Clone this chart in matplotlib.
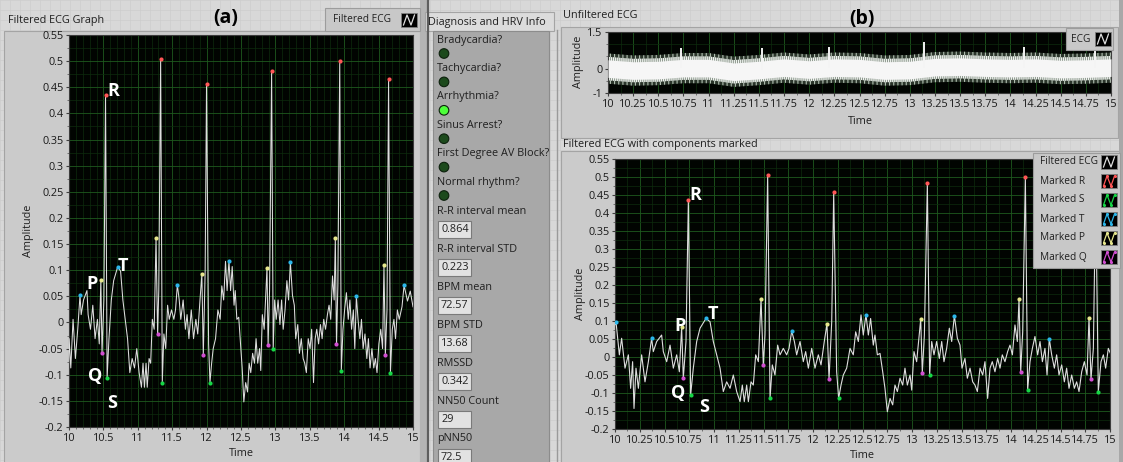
import matplotlib.pyplot as plt
from matplotlib.patches import Rectangle, Circle
from matplotlib.ticker import MultipleLocator, FuncFormatter
import numpy as np

plt.rcParams['font.family'] = ['Open Sans', 'DejaVu Sans']
plt.rcParams['axes.unicode_minus'] = False
plt.rcParams['hatch.linewidth'] = 0.8

# filtered ECG, time base of panel (b)
ecg_t = [10.0, 10.01, 10.044, 10.067, 10.101, 10.135, 10.158, 10.178, 10.192, 10.212, 10.236,
         10.269, 10.303, 10.337, 10.37, 10.387, 10.421, 10.471, 10.488, 10.522, 10.556, 10.589,
         10.623, 10.65, 10.673, 10.69, 10.717, 10.741, 10.764, 10.791, 10.825, 10.859, 10.919,
         10.96, 10.993, 11.027, 11.061, 11.094, 11.128, 11.162, 11.195, 11.229, 11.263, 11.286,
         11.306, 11.33, 11.347, 11.374, 11.397, 11.421, 11.448, 11.475, 11.498, 11.515, 11.542,
         11.566, 11.589, 11.616, 11.643, 11.667, 11.7, 11.734, 11.758, 11.785, 11.812, 11.835,
         11.869, 11.902, 11.926, 11.953, 11.987, 12.02, 12.054, 12.081, 12.114, 12.141, 12.162,
         12.189, 12.209, 12.239, 12.259, 12.283, 12.306, 12.34, 12.374, 12.407, 12.431, 12.458,
         12.485, 12.508, 12.535, 12.559, 12.582, 12.609, 12.626, 12.65, 12.677, 12.704, 12.727,
         12.751, 12.778, 12.805, 12.828, 12.852, 12.879, 12.906, 12.929, 12.953, 12.98, 12.997,
         13.02, 13.047, 13.088, 13.104, 13.125, 13.155, 13.178, 13.199, 13.222, 13.249, 13.276,
         13.3, 13.323, 13.35, 13.377, 13.401, 13.428, 13.458, 13.485, 13.505, 13.535, 13.559,
         13.586, 13.613, 13.636, 13.66, 13.687, 13.714, 13.737, 13.764, 13.788, 13.811, 13.838,
         13.865, 13.889, 13.912, 13.939, 13.966, 13.99, 14.014, 14.04, 14.064, 14.081, 14.098,
         14.118, 14.145, 14.168, 14.192, 14.216, 14.242, 14.269, 14.293, 14.317, 14.343, 14.364,
         14.387, 14.411, 14.438, 14.461, 14.485, 14.512, 14.539, 14.562, 14.586, 14.613, 14.64,
         14.663, 14.687, 14.714, 14.741, 14.768, 14.788, 14.808, 14.832, 14.855, 14.882, 14.909,
         14.933, 14.956, 14.983, 15.01, 15.05, 15.08, 15.13, 15.17, 15.21]
ecg_v = [0.09, 0.098, 0.006, 0.052, -0.031, 0.006, -0.087, -0.013, -0.143, -0.031, -0.087,
         0.006, -0.069, -0.013, 0.052, 0.015, 0.043, 0.061, 0.015, -0.013, 0.033, -0.031,
         0.006, -0.041, 0.082, -0.059, 0.043, 0.436, -0.106, -0.031, 0.043, 0.08, 0.107,
         0.098, 0.043, 0.006, -0.031, -0.096, -0.069, -0.087, -0.05, -0.096, -0.124, -0.078,
         -0.124, -0.078, -0.124, -0.069, -0.078, 0.006, -0.013, 0.161, -0.022, 0.061, 0.505,
         -0.115, -0.022, -0.05, 0.033, 0.006, 0.024, 0.006, 0.024, 0.072, 0.043, 0.006,
         0.043, -0.013, 0.015, -0.031, 0.024, -0.031, 0.006, -0.022, 0.043, 0.092, -0.062,
         0.098, 0.457, -0.041, -0.115, -0.078, -0.05, -0.031, 0.024, 0.006, 0.07, 0.043,
         0.117, 0.061, 0.118, 0.061, 0.107, 0.033, 0.061, 0.006, 0.01, -0.041, -0.087,
         -0.152, -0.115, -0.133, -0.078, -0.096, -0.059, -0.078, -0.031, -0.078, -0.05, -0.092,
         0.015, -0.013, 0.105, -0.044, 0.061, 0.482, -0.05, 0.043, 0.006, 0.043, -0.004,
         0.043, -0.013, 0.024, 0.08, 0.043, 0.115, 0.052, 0.033, -0.031, -0.004, -0.059,
         -0.031, -0.069, -0.078, -0.096, -0.031, -0.05, -0.013, -0.115, -0.031, -0.013, -0.041,
         -0.004, -0.031, 0.006, -0.013, 0.015, 0.033, 0.006, 0.089, 0.043, 0.161, -0.041,
         0.07, 0.5, -0.092, -0.013, 0.024, 0.057, 0.006, 0.043, -0.013, 0.024, -0.05,
         0.05, 0.006, -0.031, 0.006, -0.05, -0.022, -0.069, -0.031, -0.087, -0.05, -0.087,
         -0.069, -0.096, -0.041, -0.013, -0.05, 0.109, -0.062, 0.024, 0.465, -0.096, -0.013,
         0.006, -0.031, 0.024, 0.006, 0.03, 0.071, 0.041, 0.06, 0.03]
# panel (a) shows the same record, its window starting 0.21 s later
a_offset = 0.21

# detected components (panel (b) time base)
r_t = [10.741, 11.542, 12.209, 13.155, 14.145, 14.855]
r_v = [0.436, 0.505, 0.457, 0.482, 0.5, 0.465]
s_t = [10.764, 11.566, 12.259, 13.178, 14.168, 14.882]
s_v = [-0.106, -0.115, -0.115, -0.05, -0.092, -0.096]
q_t = [10.69, 11.498, 12.162, 13.104, 14.098, 14.808]
q_v = [-0.059, -0.022, -0.062, -0.044, -0.041, -0.062]
p_t = [10.673, 11.475, 12.141, 13.088, 14.081, 14.788]
p_v = [0.082, 0.161, 0.092, 0.105, 0.161, 0.109]
t_t = [10.01, 10.37, 10.919, 11.785, 12.535, 13.428, 14.387, 15.08]
t_v = [0.098, 0.052, 0.107, 0.072, 0.118, 0.115, 0.05, 0.071]

# unfiltered ECG: centre of the noise band and the R spikes above it
raw_t = [10.0, 10.25, 10.5, 10.75, 11.0, 11.25, 11.5, 11.75, 12.0, 12.25, 12.5,
         12.75, 13.0, 13.25, 13.5, 13.75, 14.0, 14.25, 14.5, 14.75, 15.0]
raw_mid = [0.0, -0.08, -0.06, 0.02, 0.02, -0.13, -0.06, 0.04, -0.04, 0.04, 0.02,
           -0.08, -0.06, 0.06, 0.08, 0.04, 0.02, 0.04, -0.02, 0.0, 0.04]
raw_core = 0.36
raw_inner = 0.48
raw_noise = 0.62
raw_spike_t = [10.73, 11.53, 12.2, 13.14, 14.14, 14.84]
raw_spike_v = [0.86, 0.86, 0.9, 1.08, 0.9, 0.93]

diag_labels = ['Bradycardia?', 'Tachycardia?', 'Arrhythmia?', 'Sinus Arrest?',
               'First Degree AV Block?', 'Normal rhythm?']
diag_on = [False, False, True, False, False, False]
hrv_labels = ['R-R interval mean', 'R-R interval STD', 'BPM mean', 'BPM STD',
              'RMSSD', 'NN50 Count', 'pNN50']
hrv_values = ['0.864', '0.223', '72.57', '13.68', '0.342', '29', '72.5']

W, H = 1123, 462
fig = plt.figure(figsize=(W / 100, H / 100), dpi=100)
fig.patch.set_facecolor('#d8d8d8')


def box(x0, y0, x1, y1):
    return [x0 / W, 1 - y1 / H, (x1 - x0) / W, (y1 - y0) / H]


# front panel background in pixel coordinates
bg = fig.add_axes([0, 0, 1, 1])
bg.set_xlim(0, W)
bg.set_ylim(H, 0)
bg.axis('off')
for gx in range(0, W, 10):
    bg.axvline(gx, color='#cdcdcd', lw=0.5, zorder=0)
for gy in range(0, H, 10):
    bg.axhline(gy, color='#cdcdcd', lw=0.5, zorder=0)


def rect(ax, x0, y0, x1, y1, fc, ec='#a4a4a4', lw=0.8, z=1):
    ax.add_patch(Rectangle((x0, y0), x1 - x0, y1 - y0, facecolor=fc, edgecolor=ec,
                           lw=lw, zorder=z))


rect(bg, 4, 31, 420, 470, '#cbcbcb')
rect(bg, 420, -2, 428, 470, '#b4b4b4', ec='none')
bg.plot([428, 428], [0, H], color='#5e5e5e', lw=1.6, zorder=2)
rect(bg, 561, 27, 1118, 138, '#cbcbcb')
rect(bg, 561, 151, 1120, 470, '#cbcbcb')
rect(bg, 1119, -2, 1125, 470, '#a8a8a8', ec='none')
bg.plot([557, 557], [30, H], color='#9a9a9a', lw=1.0, zorder=2)

fs = 7.8
txt = dict(fontsize=fs, color='#202020', va='center', zorder=3)
bg.text(8, 21, 'Filtered ECG Graph', **txt)
bg.text(563, 16, 'Unfiltered ECG', **txt)
bg.text(563, 144, 'Filtered ECG with components marked', **txt)
bg.text(226, 18, '(a)', fontsize=14, fontweight='bold', ha='center', va='center')
bg.text(862, 19, '(b)', fontsize=14, fontweight='bold', ha='center', va='center')

# diagnosis panel
rect(bg, 425, 12, 554, 31, '#dcdcdc')
rect(bg, 433, 31, 549, 470, '#a8a8a8', ec='#8c8c8c')
bg.text(428, 22, 'Diagnosis and HRV Info', **txt)
for i, (lab, on) in enumerate(zip(diag_labels, diag_on)):
    y = 40 + 28.4 * i
    bg.text(437, y, lab, **txt)
    bg.add_patch(Circle((444, y + 13.5), 4.8, facecolor='#4dff3a' if on else '#1c4a1c',
                        edgecolor='#0c200c', lw=0.8, zorder=3))
for i, (lab, val) in enumerate(zip(hrv_labels, hrv_values)):
    y = 211 + 38 * i
    bg.text(437, y, lab, **txt)
    rect(bg, 438, y + 10, 471, y + 27, '#e2e2e2', ec='#7a7a7a', lw=0.8, z=2)
    bg.text(441, y + 18.5, val, **txt)

# axis titles
lab = dict(fontsize=fs, color='#202020', ha='center', va='center', zorder=3)
bg.text(28, 231, 'Amplitude', rotation=90, **lab)
bg.text(241, 454, 'Time', **lab)
bg.text(578, 62, 'Amplitude', rotation=90, **lab)
bg.text(860, 121, 'Time', **lab)
bg.text(581, 294, 'Amplitude', rotation=90, **lab)
bg.text(862, 455, 'Time', **lab)

fmt = FuncFormatter(lambda v, p: f'{round(v, 4):g}')
mark_colors = {'R': '#ff5656', 'S': '#16d646', 'T': '#2cb6ea', 'P': '#e6e68c', 'Q': '#d24ed2'}


def scope(rect_px, xstep, xminor, ylim, ystep, yminor):
    ax = fig.add_axes(box(*rect_px))
    ax.set_facecolor('#010401')
    ax.set_xlim(10, 15)
    ax.set_ylim(*ylim)
    ax.xaxis.set_major_locator(MultipleLocator(xstep))
    ax.xaxis.set_minor_locator(MultipleLocator(xminor))
    if ystep is not None:
        ax.yaxis.set_major_locator(MultipleLocator(ystep))
    ax.yaxis.set_minor_locator(MultipleLocator(yminor))
    ax.xaxis.set_major_formatter(fmt)
    ax.yaxis.set_major_formatter(fmt)
    ax.grid(which='major', color='#1e5a1e', lw=0.6)
    ax.grid(which='minor', color='#0d2c0d', lw=0.5)
    ax.set_axisbelow(True)
    ax.tick_params(which='major', labelsize=fs, length=2.5, pad=1.5, colors='#404040',
                   labelcolor='#1a1a1a')
    ax.tick_params(which='minor', length=1.5, colors='#606060')
    for sp in ax.spines.values():
        sp.set_color('#3c3c3c')
        sp.set_linewidth(0.8)
    return ax


def draw_components(ax, shift, lw, letters):
    ax.plot(np.array(ecg_t) - shift, ecg_v, color='#dedede', lw=lw, zorder=3)
    for key, tt, vv in [('Q', q_t, q_v), ('P', p_t, p_v), ('T', t_t, t_v),
                        ('S', s_t, s_v), ('R', r_t, r_v)]:
        ax.scatter(np.array(tt) - shift, vv, s=9, color=mark_colors[key], zorder=4,
                   linewidths=0)
    for letter, (lx, ly) in letters.items():
        ax.text(lx, ly, letter, color='white', fontsize=13, fontweight='bold',
                ha='center', va='center', zorder=5)


# (a) filtered ECG graph
ax_a = scope((69, 35, 413, 427), 0.5, 0.1, (-0.2, 0.55), 0.05, 0.025)
draw_components(ax_a, a_offset, 0.75,
                {'R': (10.64, 0.443), 'P': (10.33, 0.074), 'T': (10.78, 0.108),
                 'Q': (10.38, -0.103), 'S': (10.62, -0.155)})

# (b) unfiltered ECG
ax_u = scope((608, 32, 1111, 93), 0.25, 0.125, (-1, 1.5), None, 0.5)
ax_u.set_yticks([-1, 0, 1.5])
mid = np.array(raw_mid)
ax_u.fill_between(raw_t, mid - raw_noise, mid + raw_noise, facecolor='#2a342a',
                  hatch='||||', edgecolor='#b4c2b4', lw=0, zorder=2)
ax_u.fill_between(raw_t, mid - raw_inner, mid + raw_inner, facecolor='#8c968c',
                  hatch='||||||||', edgecolor='#f0f4f0', lw=0, zorder=2)
ax_u.fill_between(raw_t, mid - raw_core, mid + raw_core, color='#f6f6f6', lw=0, zorder=3)
ax_u.vlines(raw_spike_t, np.interp(raw_spike_t, raw_t, raw_mid), raw_spike_v,
            color='#f4f4f4', lw=1.4, zorder=4)

# (b) filtered ECG with components marked
ax_b = scope((615, 159, 1110, 429), 0.25, 0.125, (-0.2, 0.55), 0.05, 0.025)
draw_components(ax_b, 0.0, 0.8,
                {'R': (10.81, 0.45), 'P': (10.66, 0.085), 'T': (10.99, 0.12),
                 'Q': (10.64, -0.10), 'S': (10.90, -0.14)})

# legends on top
ov = fig.add_axes([0, 0, 1, 1])
ov.set_xlim(0, W)
ov.set_ylim(H, 0)
ov.axis('off')
ov.patch.set_alpha(0)
ltxt = dict(fontsize=7.3, color='#202020', va='center')


def swatch(x0, yc, color, dots):
    ov.add_patch(Rectangle((x0, yc - 7), 16, 14, facecolor='black', edgecolor='#808080', lw=0.6))
    zx = [x0 + 2.5, x0 + 6, x0 + 10, x0 + 13.5]
    zy = [yc + 5, yc - 5, yc + 5, yc - 5]
    ov.plot(zx, zy, color=color, lw=0.9)
    if dots:
        ov.scatter(zx, zy, s=5, color=color, linewidths=0, zorder=5)


rect(ov, 325, 8, 420, 31, '#c8c8c8', ec='#9c9c9c')
ov.text(333, 20, 'Filtered ECG', **ltxt)
swatch(401, 20, '#e0e0e0', False)

rect(ov, 1066, 28, 1113, 50, '#c8c8c8', ec='#9c9c9c')
ov.text(1071, 39, 'ECG', **ltxt)
swatch(1095, 39, '#e0e0e0', False)

rect(ov, 1033, 153, 1120, 268, '#c8c8c8', ec='#9c9c9c')
legend_rows = [('Filtered ECG', '#e0e0e0', False)] + \
    [(f'Marked {k}', mark_colors[k], True) for k in ['R', 'S', 'T', 'P', 'Q']]
for i, (name, col, dots) in enumerate(legend_rows):
    y = 162 + 19 * i
    ov.text(1040, y, name, **ltxt)
    swatch(1101, y, col, dots)

fig.savefig('out.png', dpi=100, facecolor=fig.get_facecolor())
